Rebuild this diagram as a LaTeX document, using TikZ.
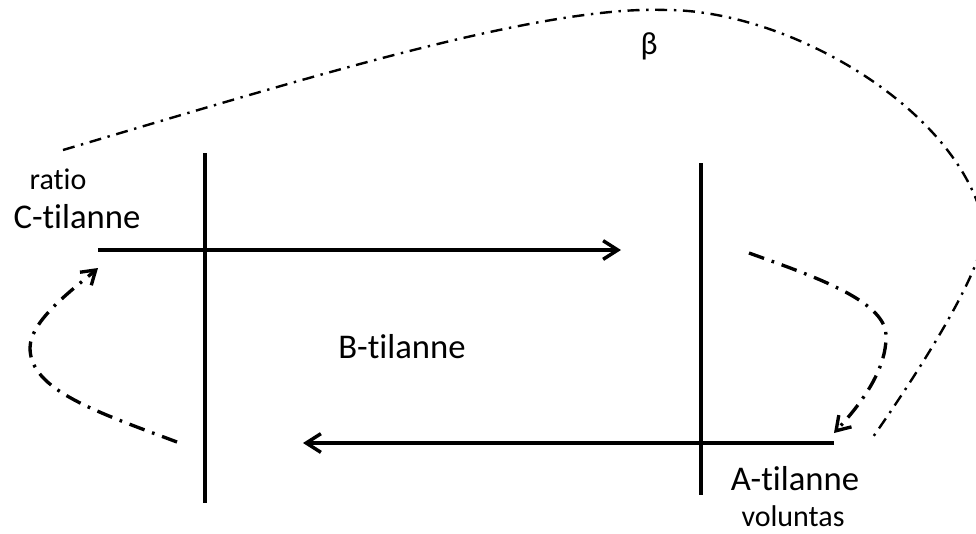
\documentclass[tikz,border=0pt]{standalone}
\usepackage{fontspec}
\setmainfont{Carlito}[RawFeature={-liga;-clig}]
\usetikzlibrary{arrows.meta}
\tikzset{
  axisline/.style={line width=2.6pt},
  mainarrow/.style={line width=2.6pt,-{Straight Barb[length=11pt,width=14pt,line width=2.6pt]}},
  loopcurve/.style={line width=2.5pt,dash pattern=on 12pt off 6pt on 2pt off 6pt},
  looparrow/.style={loopcurve,-{Straight Barb[length=10pt,width=13pt,line width=2.5pt]}},
  bigcurve/.style={line width=1.8pt,dash pattern=on 9pt off 5pt on 1.8pt off 5pt},
  lbl/.style={inner sep=0pt,anchor=base,font=\fontsize{26pt}{30pt}\selectfont},
  smalllbl/.style={inner sep=0pt,anchor=base,font=\fontsize{22.5pt}{26pt}\selectfont}
}
\begin{document}
\begin{tikzpicture}[x=0.75pt,y=-0.75pt]
\useasboundingbox (0,0) rectangle (976,533);
\clip (0,0) rectangle (976,533);
% axes
\coordinate (L1) at (205,153);
\coordinate (L2) at (205,503);
\coordinate (R1) at (701,163);
\coordinate (R2) at (701,495);
\coordinate (TS) at (98,250);
\coordinate (TE) at (621,250);
\coordinate (BS) at (834,443);
\coordinate (BE) at (303,443);
\draw[axisline] (L1) -- (L2);
\draw[axisline] (R1) -- (R2);
\draw[mainarrow] (TS) -- (TE);
\draw[mainarrow] (BS) -- (BE);
% labels
\node[smalllbl] (ratio) at (58,189) {ratio};
\node[lbl] (C) at (77,228) {C-tilanne};
\node[smalllbl,font=\fontsize{24pt}{28pt}\selectfont] (beta) at (649,54) {β};
\node[lbl] (B) at (402,358) {B-tilanne};
\node[lbl] (A) at (795,490) {A-tilanne};
\node[smalllbl] (vol) at (793,526) {voluntas};
% left loop
\coordinate (LL0) at (177,442);
\coordinate (LL1) at (30,348);
\coordinate (LL2) at (98,268);
\draw[looparrow] (LL0) .. controls (97,412) and (30,390) .. (LL1)
  .. controls (30,320) and (75,288) .. (LL2);
% right loop
\coordinate (RL0) at (749,253);
\coordinate (RL1) at (886,335);
\coordinate (RL2) at (834,433);
\draw[looparrow] (RL0) .. controls (810,275) and (885,300) .. (RL1)
  .. controls (887,370) and (860,405) .. (RL2);
% big curve
\coordinate (G0) at (63,150);
\coordinate (G1) at (666,10);
\coordinate (G2) at (984,225);
\coordinate (G3) at (873,437);
\draw[bigcurve] (G0) .. controls (300,80) and (540,5) .. (G1)
  .. controls (790,10) and (960,110) .. (G2)
  .. controls (990,265) and (908,387) .. (G3);
\end{tikzpicture}
\end{document}
